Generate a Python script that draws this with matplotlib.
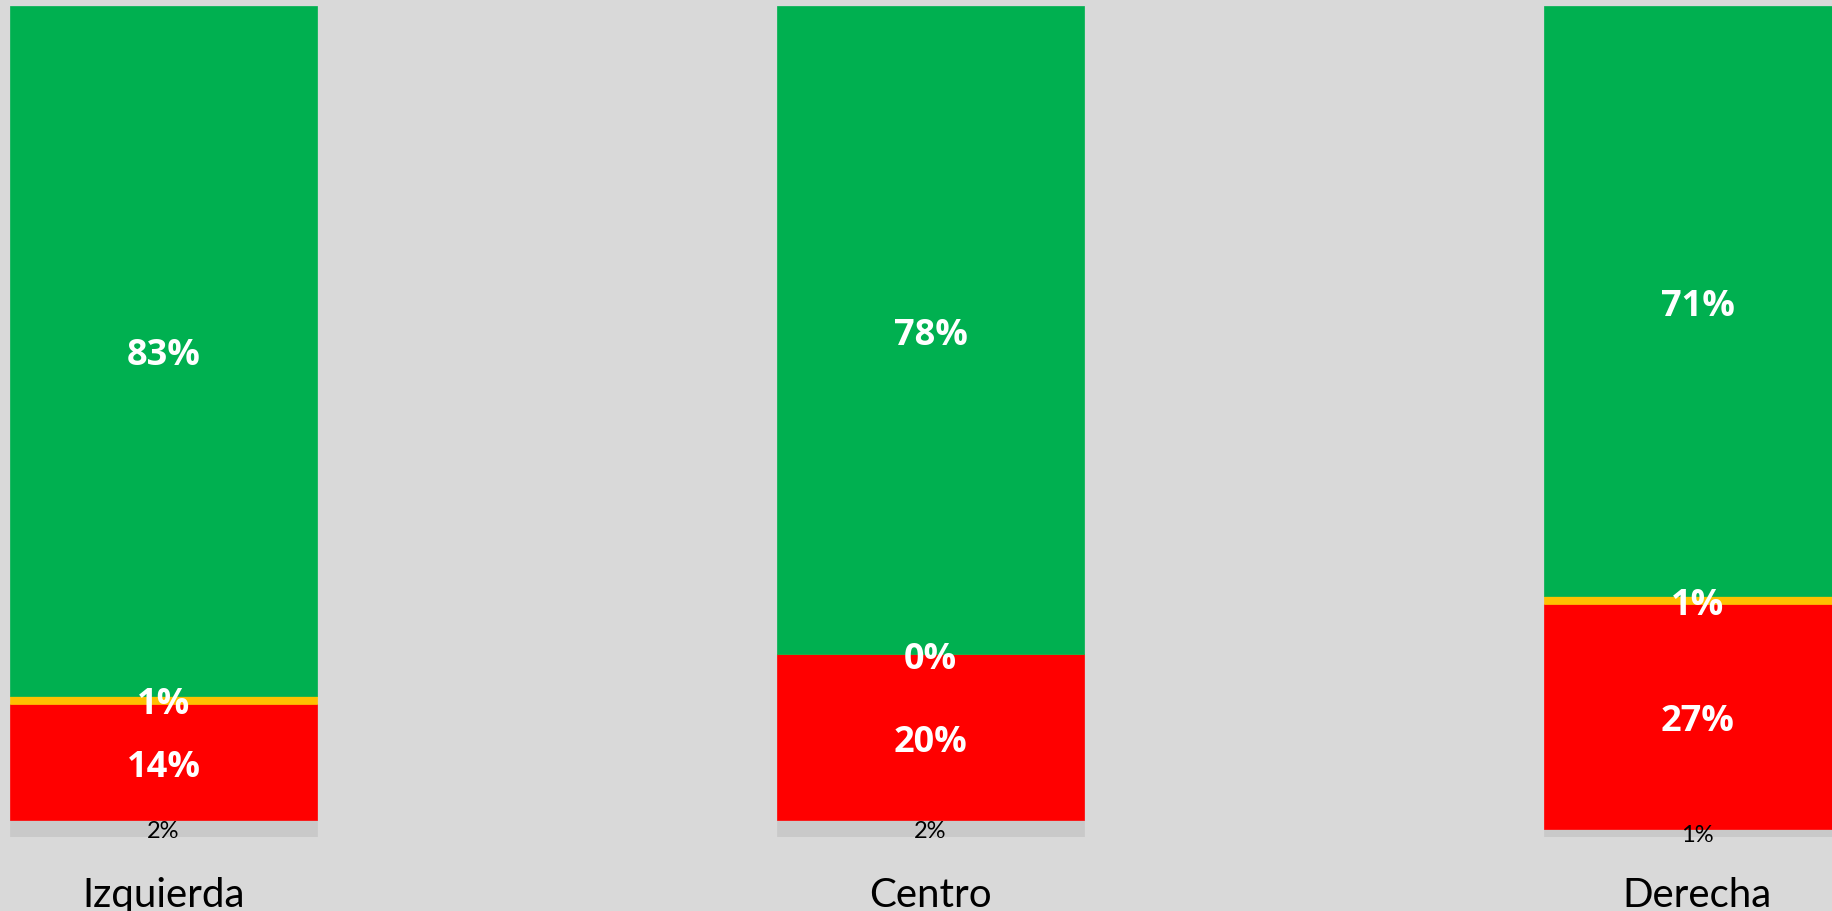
import numpy as np
import matplotlib.pyplot as plt

categories = ['Izquierda', 'Centro', 'Derecha']
gris = [2, 2, 1]
rojo = [14, 20, 27]
amarillo = [1, 0, 1]
verde = [83, 78, 71]

series = [(gris, '#C9C9C9', 'black', 17, 'normal', 'Lato'),
          (rojo, '#FF0000', 'white', 26, 'bold', 'Open Sans'),
          (amarillo, '#FFC000', 'white', 26, 'bold', 'Open Sans'),
          (verde, '#00B050', 'white', 26, 'bold', 'Open Sans')]

plt.rcParams['font.family'] = ['Lato', 'DejaVu Sans']

fig = plt.figure(figsize=(18.32, 9.12), dpi=100, facecolor='#D9D9D9')
ax = fig.add_axes([0, 74/912, 1, 831/912])
ax.set_facecolor('#D9D9D9')

x = np.arange(len(categories))
bottom = np.zeros(len(categories))
for vals, col, tcol, fs, fw, fam in series:
    vals = np.array(vals, dtype=float)
    ax.bar(x, vals, width=0.4, bottom=bottom, color=col, edgecolor=col, linewidth=0.5)
    for xi, b, v in zip(x, bottom, vals):
        ax.text(xi, b + v / 2, f'{int(v)}%', ha='center', va='center_baseline',
                color=tcol, fontsize=fs, fontweight=fw, family=[fam, 'DejaVu Sans'])
    bottom += vals

# category names under each bar
for xi, name in zip(x, categories):
    ax.text(xi, -6.9, name, ha='center', va='center', fontsize=29,
            color='black', clip_on=False)

ax.set_xlim(-163.5/767, (1832-163.5)/767)
ax.set_ylim(0, 100)
ax.set_xticks([])
ax.set_yticks([])
for s in ax.spines.values():
    s.set_visible(False)

fig.savefig('out.png', dpi=100, facecolor='#D9D9D9')
